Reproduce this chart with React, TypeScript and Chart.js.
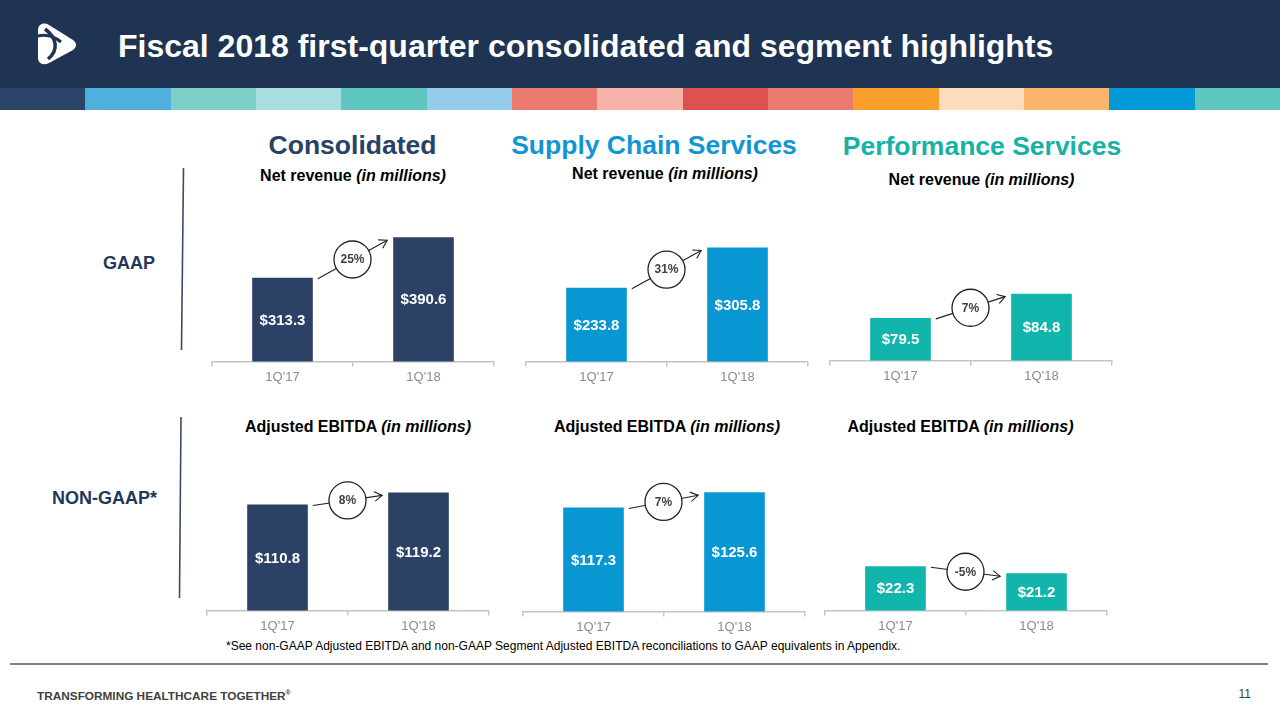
import React, { useEffect, useRef } from "react";
import { Chart, registerables } from "chart.js";

Chart.register(...registerables);

const FONT = "'Liberation Sans', Arial, Helvetica, sans-serif";
Chart.defaults.font.family = FONT;

// ---------- data ----------
const quarters = ["1Q'17", "1Q'18"];
const consolidatedRevenue = [313.3, 390.6];
const supplyChainRevenue = [233.8, 305.8];
const performanceRevenue = [79.5, 84.8];
const consolidatedEbitda = [110.8, 119.2];
const supplyChainEbitda = [117.3, 125.6];
const performanceEbitda = [22.3, 21.2];
const growthLabels = ["25%", "31%", "7%", "8%", "7%", "-5%"];
const valuePrefix = "$";

const stripeColors = [
  "#2b4468", "#4fb0de", "#7fcfc9", "#a9dfe1", "#5fc6c0",
  "#94cdeb", "#eb7a6f", "#f7b3aa", "#de5151", "#eb7a6f",
  "#f99e2b", "#fddcbc", "#fbb46c", "#0099d6", "#5fc6c0",
];

const NAVY = "#2b4266";
const BLUE = "#0897d3";
const TEAL = "#12b5ab";

const PLOT_H = 160;
const AXIS_W = 282;
const CANVAS_H = 188;

type PanelProps = {
  values: number[];
  color: string;
  growth: string;
  yMin: number;
  yMax: number;
  left: number;
  axisY: number;
};

function BarPanel(p: PanelProps) {
  const ref = useRef<HTMLCanvasElement>(null);
  useEffect(() => {
    if (!ref.current) return;
    const annot = {
      id: "annot",
      afterDatasetsDraw(chart: any) {
        const ctx = chart.ctx as CanvasRenderingContext2D;
        const bars = chart.getDatasetMeta(0).data as any[];
        const bottom = chart.chartArea.bottom;
        ctx.save();
        ctx.fillStyle = "#ffffff";
        ctx.font = `bold 15px ${FONT}`;
        ctx.textAlign = "center";
        ctx.textBaseline = "middle";
        bars.forEach((b, i) => {
          const v = p.values[i];
          ctx.fillText(valuePrefix + v.toFixed(1), b.x, (b.y + bottom) / 2 + 1);
        });
        const b1 = bars[0];
        const b2 = bars[1];
        const sx = b1.x + b1.width / 2 + 5;
        const sy = b1.y + 1;
        const ex = b2.x - b2.width / 2 - 6;
        const ey = b2.y + 3;
        const cx = (sx + ex) / 2;
        const cy = (sy + ey) / 2;
        ctx.strokeStyle = "#222222";
        ctx.lineWidth = 1.1;
        ctx.beginPath();
        ctx.moveTo(sx, sy);
        ctx.lineTo(ex, ey);
        ctx.stroke();
        const ang = Math.atan2(ey - sy, ex - sx);
        const hl = 9;
        ctx.beginPath();
        ctx.moveTo(ex - hl * Math.cos(ang - 0.55), ey - hl * Math.sin(ang - 0.55));
        ctx.lineTo(ex, ey);
        ctx.lineTo(ex - hl * Math.cos(ang + 0.55), ey - hl * Math.sin(ang + 0.55));
        ctx.stroke();
        ctx.beginPath();
        ctx.arc(cx, cy, 18.5, 0, Math.PI * 2);
        ctx.fillStyle = "#ffffff";
        ctx.fill();
        ctx.lineWidth = 1.3;
        ctx.stroke();
        ctx.fillStyle = "#404040";
        ctx.font = `bold 12px ${FONT}`;
        ctx.fillText(p.growth, cx, cy + 0.5);
        ctx.restore();
      },
    };
    const chart = new Chart(ref.current, {
      type: "bar",
      data: {
        labels: quarters,
        datasets: [
          {
            data: p.values,
            backgroundColor: p.color,
            barPercentage: 0.43,
            categoryPercentage: 1,
          },
        ],
      },
      options: {
        animation: false,
        responsive: false,
        maintainAspectRatio: false,
        layout: { padding: { left: 2, right: 2, top: 0, bottom: 0 } },
        plugins: {
          legend: { display: false },
          tooltip: { enabled: false },
          title: { display: false },
        },
        scales: {
          x: {
            grid: {
              display: true,
              drawOnChartArea: false,
              drawTicks: true,
              tickLength: 5,
              color: "#c4c4c4",
              lineWidth: 1.5,
            },
            border: { display: true, color: "#c4c4c4", width: 1.5 },
            ticks: { color: "#8c8c8c", font: { size: 13, family: FONT }, padding: 3 },
          },
          y: { display: false, min: p.yMin, max: p.yMax },
        },
      },
      plugins: [annot],
    } as any);
    return () => chart.destroy();
  }, []);
  return (
    <canvas
      ref={ref}
      width={AXIS_W + 4}
      height={CANVAS_H}
      style={{
        position: "absolute",
        left: p.left - 2,
        top: p.axisY - PLOT_H,
        width: AXIS_W + 4,
        height: CANVAS_H,
      }}
    />
  );
}

type TextProps = {
  text: React.ReactNode;
  cx?: number;
  left?: number;
  right?: number;
  baseline: number;
  size: number;
  color: string;
  bold?: boolean;
};

function Txt(t: TextProps) {
  const style: React.CSSProperties = {
    position: "absolute",
    top: t.baseline - 0.8465 * t.size,
    fontSize: t.size,
    lineHeight: `${t.size}px`,
    fontFamily: FONT,
    fontWeight: t.bold ? "bold" : "normal",
    color: t.color,
    whiteSpace: "nowrap",
  };
  if (t.cx !== undefined) {
    style.left = t.cx - 400;
    style.width = 800;
    style.textAlign = "center";
  } else if (t.right !== undefined) {
    style.left = t.right - 400;
    style.width = 400;
    style.textAlign = "right";
  } else {
    style.left = t.left;
  }
  return <div style={style}>{t.text}</div>;
}

const netRev = (
  <>
    Net revenue <i>(in millions)</i>
  </>
);
const adjEbitda = (
  <>
    Adjusted EBITDA <i>(in millions)</i>
  </>
);

export default function App() {
  return (
    <div
      style={{
        position: "absolute",
        left: 0,
        top: 0,
        width: 1280,
        height: 720,
        background: "#ffffff",
        overflow: "hidden",
        fontFamily: FONT,
      }}
    >
      {/* header */}
      <div style={{ position: "absolute", left: 0, top: 0, width: 1280, height: 88, background: "#1f3352" }} />
      {stripeColors.map((c, i) => (
        <div
          key={i}
          style={{
            position: "absolute",
            left: (1280 / 15) * i,
            top: 88,
            width: 1280 / 15 + 0.5,
            height: 22,
            background: c,
          }}
        />
      ))}
      <svg style={{ position: "absolute", left: 0, top: 0 }} width={1280} height={720}>
        <path
          d="M38,30 C38,24 44,22 49,25 L73,40 C77,43 77,47 73,50 L49,63 C43,66 38,63 38,58 Z"
          fill="#ffffff"
        />
        <path d="M45,29 C57,38 59,50 48,59" stroke="#1f3352" strokeWidth={3.5} fill="none" />
        <path d="M38,36 C46,34 54,36 61,42" stroke="#1f3352" strokeWidth={3} fill="none" />
        <line x1={183.5} y1={168} x2={181.5} y2={350} stroke="#3b4a66" strokeWidth={1.6} />
        <line x1={181} y1={417} x2={179.5} y2={598} stroke="#3b4a66" strokeWidth={1.6} />
        <line x1={10} y1={664} x2={1268} y2={664} stroke="#808080" strokeWidth={2} />
      </svg>
      <Txt
        text="Fiscal 2018 first-quarter consolidated and segment highlights"
        left={118}
        baseline={57}
        size={32}
        color="#ffffff"
        bold
      />

      {/* section titles */}
      <Txt text="Consolidated" cx={352.5} baseline={154} size={26.5} color="#2a4166" bold />
      <Txt text="Supply Chain Services" cx={654} baseline={154} size={26.5} color="#1196d4" bold />
      <Txt text="Performance Services" cx={982} baseline={155} size={26.5} color="#16b2a6" bold />

      <Txt text={netRev} cx={353} baseline={182} size={16} color="#000000" bold />
      <Txt text={netRev} cx={665} baseline={180} size={16} color="#000000" bold />
      <Txt text={netRev} cx={981.5} baseline={186} size={16} color="#000000" bold />

      <Txt text={adjEbitda} cx={358} baseline={433} size={16} color="#000000" bold />
      <Txt text={adjEbitda} cx={667} baseline={433} size={16} color="#000000" bold />
      <Txt text={adjEbitda} cx={960.5} baseline={433} size={16} color="#000000" bold />

      <Txt text="GAAP" right={155} baseline={269.5} size={18} color="#24375a" bold />
      <Txt text="NON-GAAP*" right={157} baseline={504.5} size={18} color="#24375a" bold />

      {/* charts */}
      <BarPanel values={consolidatedRevenue} color={NAVY} growth={growthLabels[0]} yMin={153} yMax={462} left={212} axisY={360} />
      <BarPanel values={supplyChainRevenue} color={BLUE} growth={growthLabels[1]} yMin={102.4} yMax={390.4} left={526} axisY={360} />
      <BarPanel values={performanceRevenue} color={TEAL} growth={growthLabels[2]} yMin={70.2} yMax={105.5} left={830} axisY={359} />
      <BarPanel values={consolidatedEbitda} color={NAVY} growth={growthLabels[3]} yMin={37.3} yMax={149.3} left={207} axisY={609} />
      <BarPanel values={supplyChainEbitda} color={BLUE} growth={growthLabels[4]} yMin={60.3} yMax={148.8} left={523} axisY={610} />
      <BarPanel values={performanceEbitda} color={TEAL} growth={growthLabels[5]} yMin={15.4} yMax={40.6} left={825} axisY={609} />

      {/* footnote & footer */}
      <Txt
        text="*See non-GAAP Adjusted EBITDA and non-GAAP Segment Adjusted EBITDA reconciliations to GAAP equivalents in Appendix."
        left={226}
        baseline={650}
        size={12}
        color="#000000"
      />
      <Txt
        text={
          <>
            TRANSFORMING HEALTHCARE TOGETHER<sup style={{ fontSize: 7 }}>®</sup>
          </>
        }
        left={37}
        baseline={697}
        size={11.8}
        color="#404040"
        bold
      />
      <Txt text="11" right={1251} baseline={698} size={12} color="#404040" />
    </div>
  );
}
